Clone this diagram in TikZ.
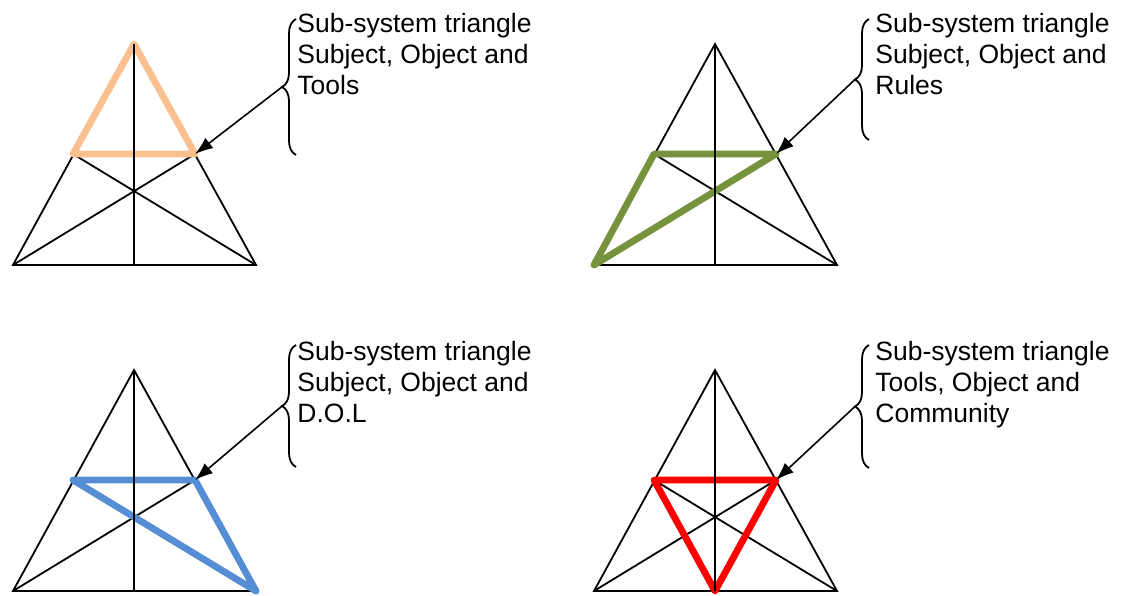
\documentclass[tikz,border=0pt]{standalone}
\usepackage{fontspec}
\setmainfont{Liberation Sans}
\usetikzlibrary{arrows.meta,decorations.pathreplacing}
\definecolor{subpeach}{RGB}{250,192,143}
\definecolor{subgreen}{RGB}{118,146,60}
\definecolor{subblue}{RGB}{85,142,213}
\definecolor{subred}{RGB}{255,0,0}
\begin{document}
\begin{tikzpicture}[
    x=0.5pt, y=-0.5pt,
    frame/.style={black, line width=0.9pt},
    sub/.style={line width=3.4pt, line join=round},
    curly/.style={decorate, decoration={brace, amplitude=7pt, aspect=0.5}, line width=0.9pt},
    pointer/.style={-{Latex[length=9pt,width=6.5pt]}, line width=0.8pt},
    caption/.style={anchor=north west, inner sep=0pt, align=left, font=\fontsize{13.25}{15.5}\selectfont}
]
    \useasboundingbox (0,0) rectangle (1128,595);
    \foreach \p/\ax/\ay/\bx/\bt/\bb/\tx/\ty/\col/\v/\txt in {
        tl/134/44/296/19/155/297/12.6/subpeach/a/{Sub-system triangle\\Subject, Object and\\Tools},
        tr/715/44/869/19/140/875/12.6/subgreen/l/{Sub-system triangle\\Subject, Object and\\Rules},
        bl/134/370/296/345/467/297/340.6/subblue/r/{Sub-system triangle\\Subject, Object and\\D.O.L},
        br/715/370/869/345/468/875/340.6/subred/mb/{Sub-system triangle\\Tools, Object and\\Community}} {
        % corners and mid points
        \coordinate (\p-a) at (\ax,\ay);
        \coordinate (\p-l) at (\ax-121,\ay+221);
        \coordinate (\p-r) at (\ax+122,\ay+221);
        \coordinate (\p-ml) at (\ax-61,\ay+110);
        \coordinate (\p-mr) at (\ax+61,\ay+110);
        \coordinate (\p-mb) at (\ax,\ay+221);
        \coordinate (\p-tip) at ({\bx-14},{(\bt+\bb)/2});
        % activity triangle
        \draw[frame] (\p-a) -- (\p-l) -- (\p-r) -- cycle;
        \draw[frame] (\p-ml) -- (\p-mr);
        \draw[frame] (\p-ml) -- (\p-r);
        \draw[frame] (\p-mr) -- (\p-l);
        % sub-system
        \draw[sub, \col] (\p-ml) -- (\p-mr) -- (\p-\v) -- cycle;
        \draw[frame] (\p-a) -- (\p-mb);
        % label
        \draw[curly] (\bx,\bb) -- (\bx,\bt);
        \node[caption] (\p-txt) at (\tx,\ty) {\txt};
        \draw[pointer] (\p-tip) -- (\p-mr);
    }
\end{tikzpicture}
\end{document}
